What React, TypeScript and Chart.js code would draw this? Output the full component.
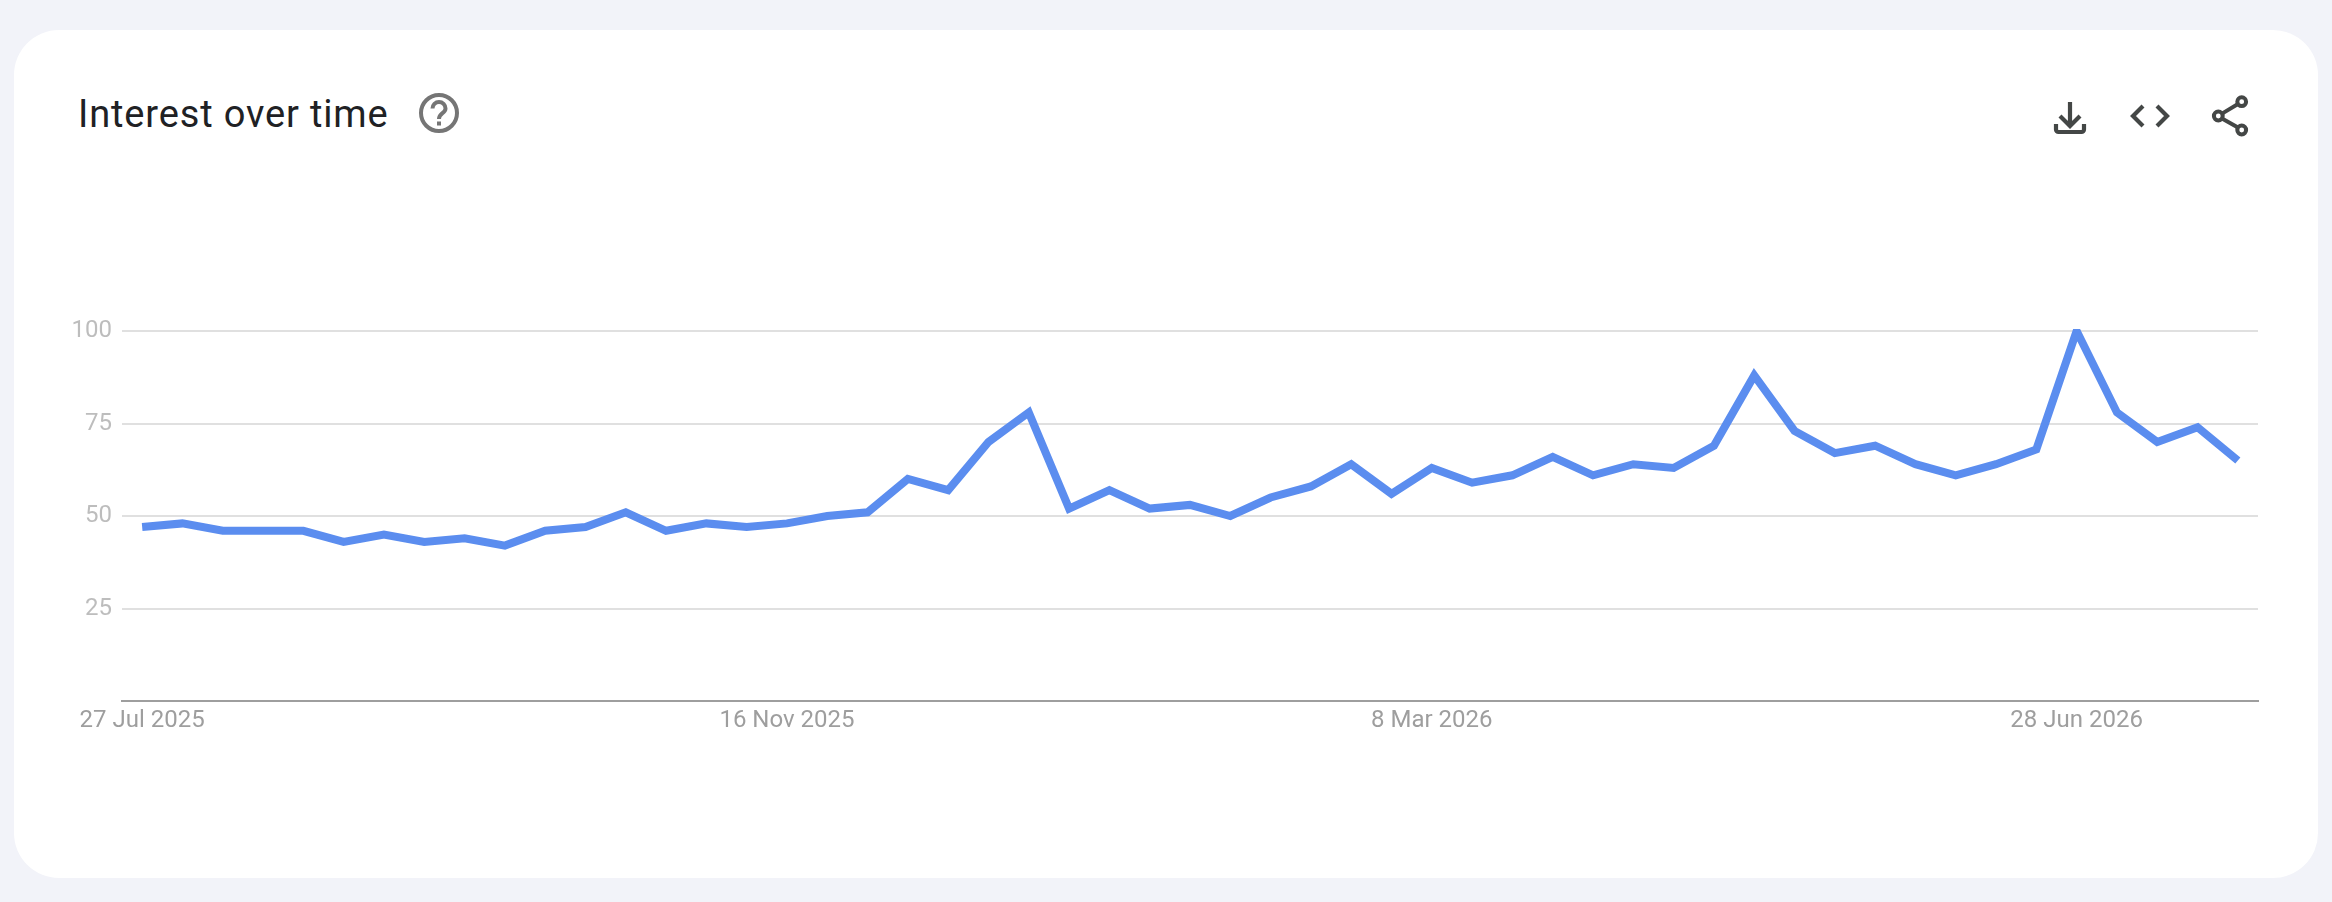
import React, { useEffect, useRef } from "react";
import { Chart, registerables } from "chart.js";

Chart.register(...registerables);

const weeks = [
  "27 Jul 2025", "3 Aug 2025", "10 Aug 2025", "17 Aug 2025", "24 Aug 2025", "31 Aug 2025",
  "7 Sep 2025", "14 Sep 2025", "21 Sep 2025", "28 Sep 2025", "5 Oct 2025", "12 Oct 2025",
  "19 Oct 2025", "26 Oct 2025", "2 Nov 2025", "9 Nov 2025", "16 Nov 2025", "23 Nov 2025",
  "30 Nov 2025", "7 Dec 2025", "14 Dec 2025", "21 Dec 2025", "28 Dec 2025", "4 Jan 2026",
  "11 Jan 2026", "18 Jan 2026", "25 Jan 2026", "1 Feb 2026", "8 Feb 2026", "15 Feb 2026",
  "22 Feb 2026", "1 Mar 2026", "8 Mar 2026", "15 Mar 2026", "22 Mar 2026", "29 Mar 2026",
  "5 Apr 2026", "12 Apr 2026", "19 Apr 2026", "26 Apr 2026", "3 May 2026", "10 May 2026",
  "17 May 2026", "24 May 2026", "31 May 2026", "7 Jun 2026", "14 Jun 2026", "21 Jun 2026",
  "28 Jun 2026", "5 Jul 2026", "12 Jul 2026", "19 Jul 2026", "26 Jul 2026",
];

const interest = [
  47, 48, 46, 46, 46, 43, 45, 43, 44, 42, 46, 47, 51, 46, 48, 47, 48, 50,
  51, 60, 57, 70, 78, 52, 57, 52, 53, 50, 55, 58, 64, 56, 63, 59, 61, 66,
  61, 64, 63, 69, 88, 73, 67, 69, 64, 61, 64, 68, 100, 78, 70, 74, 65,
];

const xTickLabels = ["27 Jul 2025", "16 Nov 2025", "8 Mar 2026", "28 Jun 2026"];
const yTickValues = [25, 50, 75, 100];

export default function App() {
  const ref = useRef<HTMLCanvasElement | null>(null);

  useEffect(() => {
    document.body.style.margin = "0";
    const chart = new Chart(ref.current as HTMLCanvasElement, {
      type: "line",
      data: {
        labels: weeks,
        datasets: [
          {
            label: "Interest",
            data: interest,
            borderColor: "#5b8def",
            borderWidth: 8,
            borderJoinStyle: "miter",
            borderCapStyle: "butt",
            pointRadius: 0,
            tension: 0,
            fill: false,
            clip: { left: 10, right: 10, top: 2, bottom: 10 },
          },
        ],
      },
      options: {
        animation: false,
        responsive: false,
        devicePixelRatio: 1,
        layout: { padding: { top: 331, right: 74, left: 0, bottom: 0 } },
        plugins: { legend: { display: false }, tooltip: { enabled: false }, title: { display: false } },
        scales: {
          x: {
            type: "category",
            offset: true,
            grid: { display: false, drawTicks: false },
            border: { display: true, color: "#9e9e9e", width: 2 },
            afterFit: (s: any) => { s.height = 201; },
            ticks: {
              autoSkip: false,
              maxRotation: 0,
              minRotation: 0,
              padding: 6,
              color: "#9e9e9e",
              font: { family: "Roboto", size: 24 },
              callback: (_v: any, i: number) => (xTickLabels.includes(weeks[i]) ? weeks[i] : ""),
            },
          },
          y: {
            min: 0,
            max: 100,
            afterFit: (s: any) => { s.width = 122; },
            afterBuildTicks: (s: any) => { s.ticks = [0, ...yTickValues].map((value) => ({ value })); },
            border: { display: false },
            grid: {
              drawTicks: false,
              lineWidth: 2,
              color: (c: any) => (c.tick && c.tick.value === 0 ? "rgba(0,0,0,0)" : "#e0e0e0"),
            },
            ticks: {
              padding: 10,
              color: "#bdbdbd",
              font: { family: "Roboto", size: 24 },
              callback: (v: any) => (yTickValues.includes(Number(v)) ? String(v) : ""),
            },
          },
        },
      },
    } as any);
    return () => chart.destroy();
  }, []);

  return (
    <div style={{ position: "fixed", left: 0, top: 0, width: 2332, height: 902, background: "#f2f3f9", overflow: "hidden" }}>
      <div style={{ position: "absolute", left: 14, top: 30, width: 2304, height: 848, background: "#ffffff", borderRadius: 45 }} />
      <div
        style={{
          position: "absolute",
          left: 78,
          top: 91,
          fontFamily: "Roboto",
          fontSize: 38,
          lineHeight: "46px",
          letterSpacing: 0.85,
          color: "#202124",
          whiteSpace: "nowrap",
        }}
      >
        Interest over time
      </div>
      <canvas ref={ref} width={2332} height={902} style={{ position: "absolute", left: 0, top: 0, width: 2332, height: 902 }} />
      <svg width={2332} height={902} style={{ position: "absolute", left: 0, top: 0, pointerEvents: "none" }}>
        <g fill="none" stroke="#757575" strokeWidth={4}>
          <circle cx={439} cy={113} r={18} />
          <path d="M432.5 108.5c0-3.6 2.9-6.5 6.5-6.5s6.5 2.9 6.5 6.5c0 5-6.5 4.5-6.5 10.5" />
        </g>
        <rect x={437} y={121.5} width={4} height={4} fill="#757575" />
        <g fill="none" stroke="#444746" strokeWidth={4.2}>
          <path d="M2070 102V125M2060 116L2070 126L2080 116" />
          <path d="M2056 124V129.5A2.5 2.5 0 0 0 2058.5 132H2081.5A2.5 2.5 0 0 0 2084 129.5V124" />
          <path d="M2143 106L2133 116L2143 126M2157 106L2167 116L2157 126" />
        </g>
        <g fill="none" stroke="#444746" strokeWidth={4}>
          <circle cx={2241.7} cy={101.7} r={4.4} />
          <circle cx={2218.3} cy={116} r={4.4} />
          <circle cx={2241.7} cy={130} r={4.4} />
          <path d="M2222 113.6L2238 104M2222 118.4L2238 127.6" />
        </g>
      </svg>
    </div>
  );
}
